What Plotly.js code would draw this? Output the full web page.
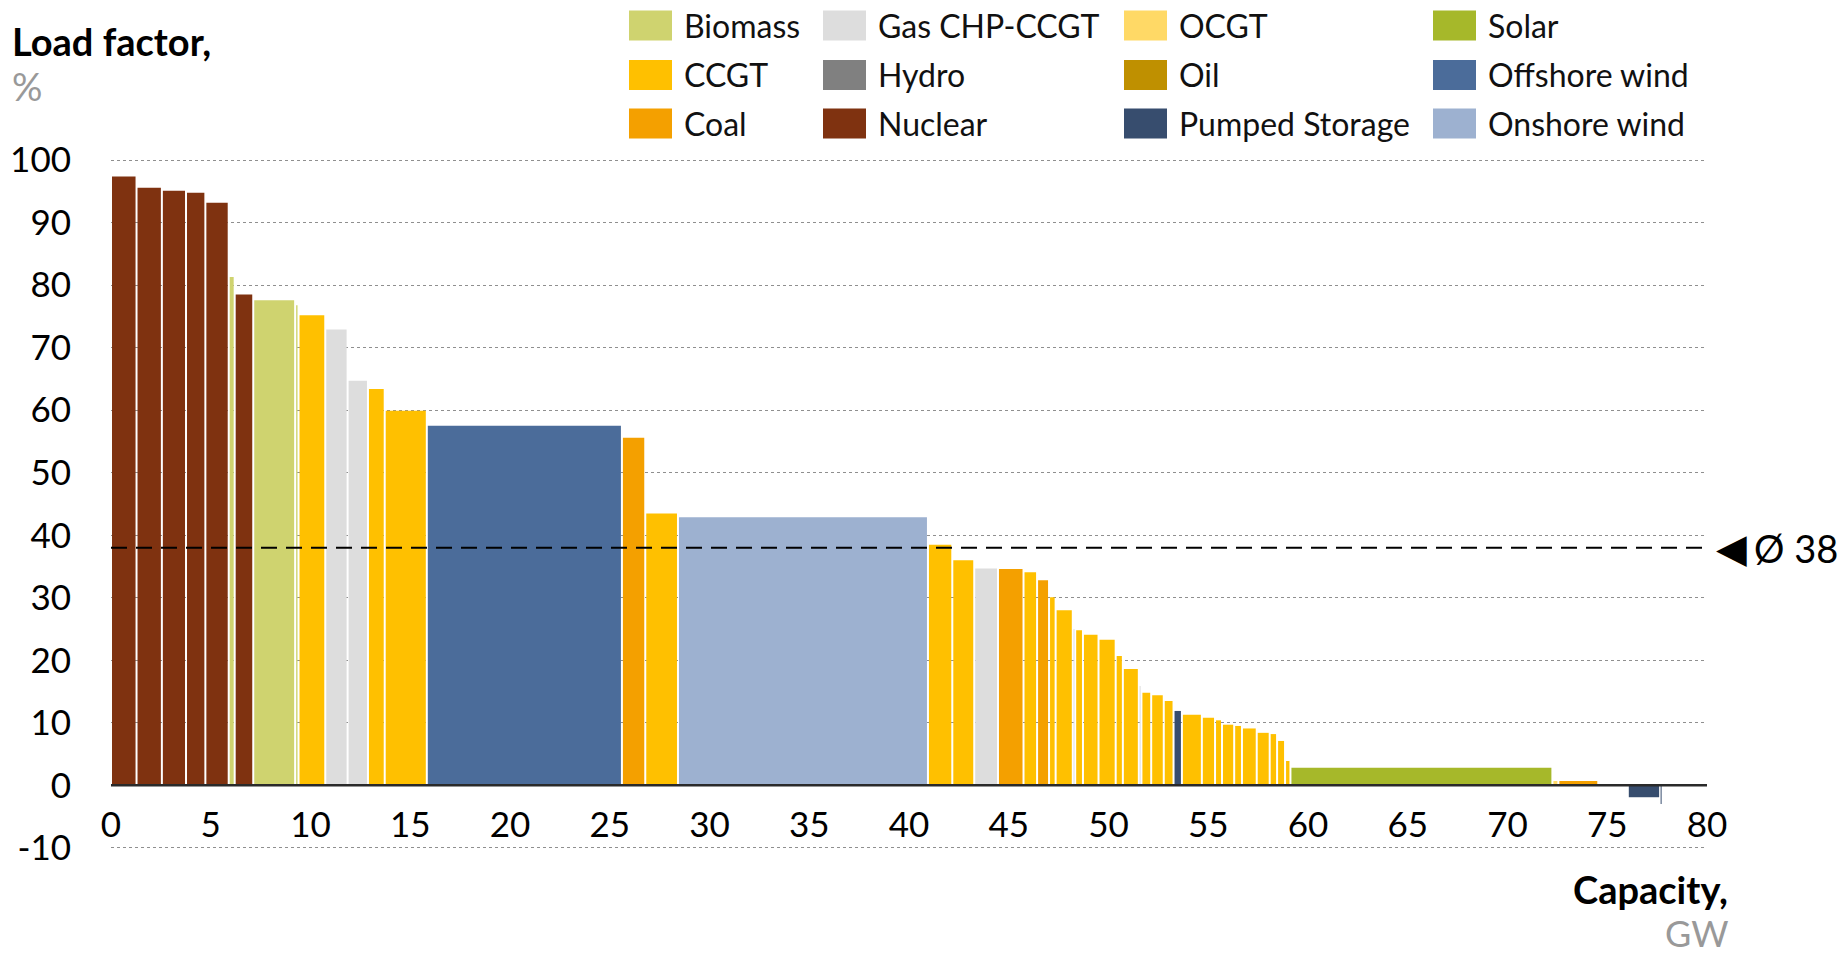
<!DOCTYPE html>
<html><head><meta charset="utf-8">
<script src="https://cdn.plot.ly/plotly-3.0.1.min.js"></script>
<style>html,body{margin:0;padding:0;background:#fff;} #chart{width:1841px;height:957px;}</style>
</head><body><div id="chart"></div>
<script>
// ---------- DATA ----------
const plantTypes = ['Biomass','CCGT','Coal','Gas CHP-CCGT','Hydro','Nuclear','OCGT','Oil','Pumped Storage','Solar','Offshore wind','Onshore wind'];

const barType = [
 'Nuclear','Nuclear','Nuclear','Nuclear','Nuclear','Biomass','Nuclear','Biomass','Biomass','CCGT',
 'Gas CHP-CCGT','Gas CHP-CCGT','CCGT','CCGT','Offshore wind','Coal','CCGT','Onshore wind','CCGT','CCGT',
 'Gas CHP-CCGT','Coal','CCGT','Coal','CCGT','CCGT','Gas CHP-CCGT','CCGT','CCGT','CCGT',
 'CCGT','CCGT','Gas CHP-CCGT','CCGT','CCGT','CCGT','Pumped Storage','CCGT','CCGT','CCGT',
 'CCGT','CCGT','CCGT','CCGT','CCGT','CCGT','CCGT','Solar','OCGT','Coal',
 'Oil','Pumped Storage','Pumped Storage'];

const capacityGW = [
 1.28,1.27,1.21,0.97,1.17,0.30,0.93,2.10,0.17,1.34,
 1.12,1.02,0.84,2.11,9.78,1.17,1.64,12.53,1.22,1.10,
 1.19,1.28,0.68,0.60,0.33,0.86,0.12,0.39,0.78,0.86,
 0.36,0.80,0.13,0.49,0.63,0.49,0.42,1.00,0.66,0.35,
 0.61,0.39,0.74,0.65,0.37,0.40,0.27,13.13,0.30,2.00,
 1.48,1.62,0.10];

const loadFactorPct = [
 97.4,95.6,95.1,94.8,93.2,81.3,78.5,77.6,76.8,75.2,
 72.9,64.7,63.4,59.9,57.5,55.6,43.5,42.9,38.5,36.0,
 34.7,34.6,34.1,32.8,30.1,28.0,25.0,24.8,24.1,23.3,
 20.7,18.6,15.9,14.8,14.4,13.5,11.9,11.3,10.8,10.4,
 9.7,9.5,9.1,8.4,8.2,7.1,3.9,2.8,0.7,0.7,
 0,-1.9,-3.0];

const averageLoadFactor = 38;
const xTickValues = [0,5,10,15,20,25,30,35,40,45,50,55,60,65,70,75,80];
const yTickValues = [-10,0,10,20,30,40,50,60,70,80,90,100];

// ---------- STYLE ----------
const typeColors = {
 'Biomass':'#CFD36F','CCGT':'#FFC000','Coal':'#F4A000','Gas CHP-CCGT':'#DDDDDD',
 'Hydro':'#808080','Nuclear':'#7F3210','OCGT':'#FFD966','Oil':'#BF9000',
 'Pumped Storage':'#374D6E','Solar':'#A6B82A','Offshore wind':'#4B6C9A','Onshore wind':'#9DB1D0'
};
const FONT = 'Lato, "Open Sans", sans-serif';
const W = 1841, H = 957;
const M = {l:111, r:134, t:157, b:106};
const Y_RANGE = [-10.5, 100.5];
const plotW = W - M.l - M.r, plotH = H - M.t - M.b;
const px2x = px => (px - M.l) / plotW;
const px2y = py => (H - M.b - py) / plotH;
const GAP = 0.1;

// ---------- BARS ----------
const starts = [];
let acc = 0;
capacityGW.forEach(c => { starts.push(acc); acc += c; });

const traces = plantTypes.map(t => {
  const idx = barType.map((b,i)=> b===t ? i : -1).filter(i=>i>=0);
  return {
    type:'bar', name:t, showlegend:false, hoverinfo:'skip',
    x: idx.map(i => starts[i] + capacityGW[i]/2),
    y: idx.map(i => loadFactorPct[i]),
    width: idx.map(i => Math.max(capacityGW[i] - GAP, 0.05)),
    marker:{color:typeColors[t], line:{width:0}}
  };
});

// ---------- LEGEND (manual, 4 columns x 3 rows) ----------
const legendColsPx = [629, 823, 1124, 1433];
const legendRowsPx = [25.5, 75, 123.5];
const shapes = [];
const annotations = [];
plantTypes.forEach((t,k) => {
  const col = Math.floor(k/3), row = k%3;
  const lx = legendColsPx[col], cy = legendRowsPx[row];
  shapes.push({type:'rect', xref:'paper', yref:'paper', layer:'above',
    x0:px2x(lx), x1:px2x(lx+43), y0:px2y(cy+15), y1:px2y(cy-15),
    fillcolor:typeColors[t], line:{width:0}});
  annotations.push({xref:'paper', yref:'paper', x:px2x(lx+53), y:px2y(cy),
    xanchor:'left', yanchor:'middle', showarrow:false, text:t,
    font:{family:FONT, size:32, color:'#111'}});
});

// zero line and average line
shapes.push({type:'line', xref:'paper', yref:'y', x0:0, x1:1, y0:0, y1:0, layer:'above',
  line:{color:'#2a2a2a', width:2.5}});
shapes.push({type:'line', xref:'paper', yref:'y', x0:0, x1:1, y0:averageLoadFactor, y1:averageLoadFactor, layer:'above',
  line:{color:'#000', width:2, dash:'16px,9px'}});

// average label
annotations.push({xref:'paper', yref:'y', x:1, y:averageLoadFactor, xanchor:'left', yanchor:'middle',
  xshift:7, showarrow:false, text:'◀', font:{family:'DejaVu Sans', size:40, color:'#000'}});
annotations.push({xref:'paper', yref:'y', x:1, y:averageLoadFactor, xanchor:'left', yanchor:'middle',
  xshift:45, showarrow:false, text:'Ø ' + averageLoadFactor, font:{family:FONT, size:38, color:'#000'}});

// axis titles
annotations.push({xref:'paper', yref:'paper', x:px2x(10), y:px2y(41), xanchor:'left', yanchor:'middle',
  showarrow:false, text:'<b>Load factor,</b>', font:{family:FONT, size:38, color:'#000'}});
annotations.push({xref:'paper', yref:'paper', x:px2x(10), y:px2y(86), xanchor:'left', yanchor:'middle',
  showarrow:false, text:'%', font:{family:FONT, size:38, color:'#999'}});
annotations.push({xref:'paper', yref:'paper', x:px2x(1729), y:px2y(889), xanchor:'right', yanchor:'middle',
  showarrow:false, borderpad:0, text:'<b>Capacity,</b>', font:{family:FONT, size:38, color:'#000'}});
annotations.push({xref:'paper', yref:'paper', x:px2x(1729), y:px2y(933), xanchor:'right', yanchor:'middle',
  showarrow:false, borderpad:0, text:'GW', font:{family:FONT, size:36, color:'#999'}});

const layout = {
  width:W, height:H, margin:M, paper_bgcolor:'#fff', plot_bgcolor:'#fff',
  font:{family:FONT, size:34, color:'#000'},
  barmode:'overlay', showlegend:false,
  xaxis:{range:[0,80], tickvals:xTickValues, ticktext:xTickValues.map(String),
    anchor:'free', position:(0 - Y_RANGE[0])/(Y_RANGE[1]-Y_RANGE[0]), showgrid:false, zeroline:false, showline:false,
    ticks:'outside', ticklen:9, tickcolor:'rgba(0,0,0,0)', tickfont:{family:FONT, size:35, color:'#000'}},
  yaxis:{range:Y_RANGE, tickvals:yTickValues, ticktext:yTickValues.map(String),
    showgrid:true, gridcolor:'#8f8f8f', gridwidth:1.2, griddash:'dot', zeroline:false, showline:false,
    ticks:'outside', ticklen:32, tickcolor:'rgba(0,0,0,0)', tickfont:{family:FONT, size:35, color:'#000'}},
  shapes:shapes, annotations:annotations
};

Plotly.newPlot('chart', traces, layout, {displayModeBar:false, staticPlot:true});
</script></body></html>
